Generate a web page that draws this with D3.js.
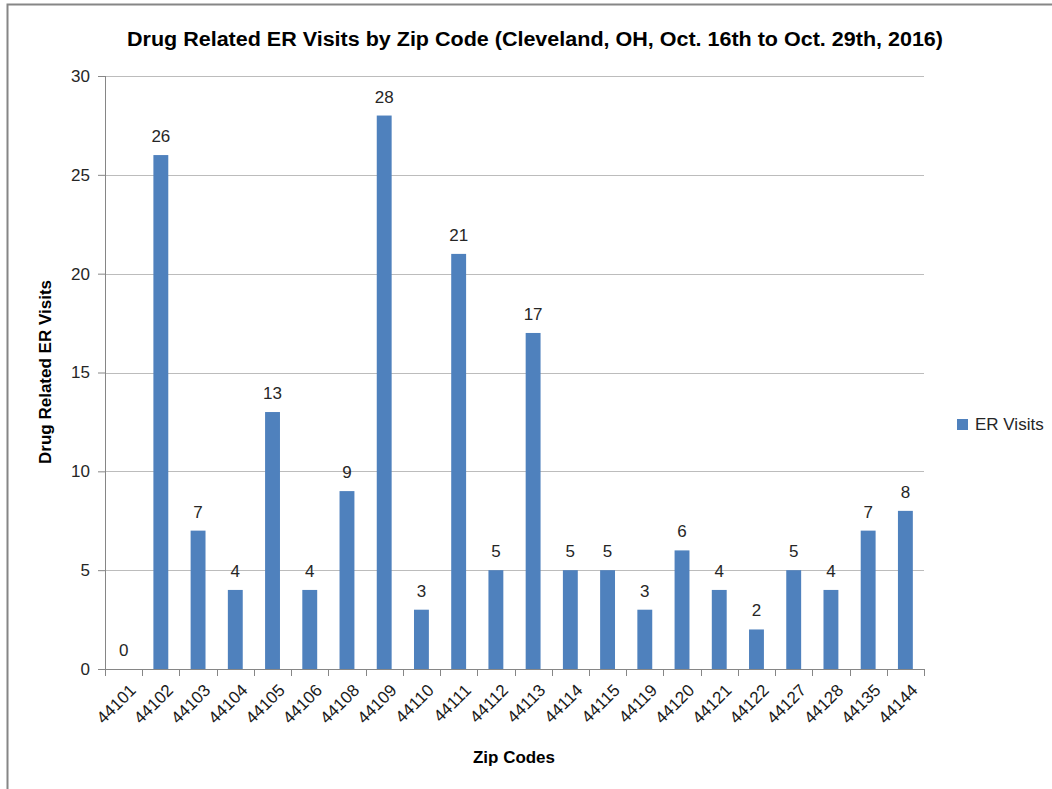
<!DOCTYPE html>
<html>
<head>
<meta charset="utf-8">
<script src="https://cdn.jsdelivr.net/npm/d3@7"></script>
<style>
  body { margin: 0; background: #fff; }
  svg { font-family: "Liberation Sans", Arial, sans-serif; }
</style>
</head>
<body>
<svg id="chart" width="1052" height="789"></svg>
<script>
const zipCodes = ["44101", "44102", "44103", "44104", "44105", "44106", "44108", "44109", "44110", "44111", "44112",
    "44113", "44114", "44115", "44119", "44120", "44121", "44122", "44127", "44128", "44135", "44144"];
const erVisits = [0, 26, 7, 4, 13, 4, 9, 28, 3, 21, 5, 17, 5, 5, 3, 6, 4, 2, 5, 4, 7, 8];
const yTicks = [0, 5, 10, 15, 20, 25, 30];

const margin = { top: 76, left: 105, right: 128, bottom: 120 };
const width = 1052 - margin.left - margin.right;   // 819
const height = 669 - margin.top;                    // 593
const barColor = "#4F81BD";

const svg = d3.select("#chart");

// chart border
svg.append("rect")
    .attr("x", 7.5).attr("y", 4.5)
    .attr("width", 1060).attr("height", 800)
    .attr("fill", "none")
    .attr("stroke", "#868686")
    .attr("stroke-width", 2);

const data = zipCodes.map((z, i) => ({ zip: z, value: erVisits[i] }));

const x = d3.scaleBand()
    .domain(zipCodes)
    .range([0, width])
    .paddingInner(0.6)
    .paddingOuter(0.3);

const y = d3.scaleLinear()
    .domain([0, 30])
    .range([height, 0]);

const g = svg.append("g")
    .attr("transform", `translate(${margin.left}, ${margin.top})`);

// gridlines
g.append("g")
    .selectAll("line")
    .data(yTicks.filter(d => d > 0))
    .enter()
    .append("line")
    .attr("x1", 0)
    .attr("x2", width)
    .attr("y1", d => Math.round(y(d)) + 0.5)
    .attr("y2", d => Math.round(y(d)) + 0.5)
    .attr("stroke", "#bcbcbc")
    .attr("stroke-width", 1);

// y axis
const yAxis = d3.axisLeft(y).tickValues(yTicks).tickSize(7).tickPadding(8);
g.append("g")
    .attr("class", "axis y")
    .call(yAxis)
    .call(a => a.select(".domain").attr("stroke", "#868686").attr("d", `M0.5,0V${height}`))
    .call(a => a.selectAll(".tick line").attr("stroke", "#868686"))
    .call(a => a.selectAll(".tick text")
        .attr("font-size", "17px")
        .attr("font-family", "Liberation Sans, Arial, sans-serif")
        .attr("fill", "#262626"));

// bars
g.append("g")
    .attr("class", "bars")
    .selectAll("rect")
    .data(data)
    .enter()
    .append("rect")
    .attr("x", d => x(d.zip))
    .attr("y", d => y(d.value))
    .attr("width", x.bandwidth())
    .attr("height", d => height - y(d.value))
    .attr("fill", barColor);

// value labels
g.append("g")
    .attr("class", "labels")
    .selectAll("text")
    .data(data)
    .enter()
    .append("text")
    .attr("x", d => x(d.zip) + x.bandwidth() / 2)
    .attr("y", d => y(d.value) - 13)
    .attr("text-anchor", "middle")
    .attr("font-size", "17px")
    .attr("fill", "#262626")
    .text(d => d.value);

// x axis: ticks at band boundaries
const bounds = d3.range(zipCodes.length + 1).map(i => i * width / zipCodes.length);
const xAxisG = g.append("g")
    .attr("class", "axis x")
    .attr("transform", `translate(0, ${height})`);

xAxisG.append("line")
    .attr("x1", 0).attr("x2", width)
    .attr("y1", 0.5).attr("y2", 0.5)
    .attr("stroke", "#868686");

xAxisG.selectAll("line.tick")
    .data(bounds)
    .enter()
    .append("line")
    .attr("class", "tick")
    .attr("x1", d => Math.round(d) + 0.5)
    .attr("x2", d => Math.round(d) + 0.5)
    .attr("y1", 0)
    .attr("y2", 7)
    .attr("stroke", "#868686");

xAxisG.selectAll("text")
    .data(zipCodes)
    .enter()
    .append("text")
    .attr("transform", d => `translate(${x(d) + x.bandwidth() / 2 + 5}, 14) rotate(-45)`)
    .attr("text-anchor", "end")
    .attr("dy", "0.7em")
    .attr("font-size", "17px")
    .attr("fill", "#1a1a1a")
    .text(d => d);

// title
svg.append("text")
    .attr("x", 535)
    .attr("y", 46)
    .attr("text-anchor", "middle")
    .attr("font-size", "20px")
    .attr("font-weight", "bold")
    .attr("fill", "#000")
    .attr("textLength", 816)
    .attr("lengthAdjust", "spacingAndGlyphs")
    .text("Drug Related ER Visits by Zip Code (Cleveland, OH, Oct. 16th to Oct. 29th, 2016)");

// y axis title
svg.append("text")
    .attr("transform", "translate(51, 372) rotate(-90)")
    .attr("text-anchor", "middle")
    .attr("font-size", "16px")
    .attr("font-weight", "bold")
    .attr("fill", "#000")
    .attr("textLength", 184)
    .attr("lengthAdjust", "spacingAndGlyphs")
    .text("Drug Related ER Visits");

// x axis title
svg.append("text")
    .attr("x", 514)
    .attr("y", 763)
    .attr("text-anchor", "middle")
    .attr("font-size", "16px")
    .attr("font-weight", "bold")
    .attr("fill", "#000")
    .attr("textLength", 82)
    .attr("lengthAdjust", "spacingAndGlyphs")
    .text("Zip Codes");

// legend
const legend = svg.append("g")
    .attr("transform", "translate(957, 419)");
legend.append("rect")
    .attr("width", 11)
    .attr("height", 11)
    .attr("fill", barColor);
legend.append("text")
    .attr("x", 18)
    .attr("y", 11)
    .attr("font-size", "17px")
    .attr("fill", "#262626")
    .text("ER Visits");
</script>
</body>
</html>
